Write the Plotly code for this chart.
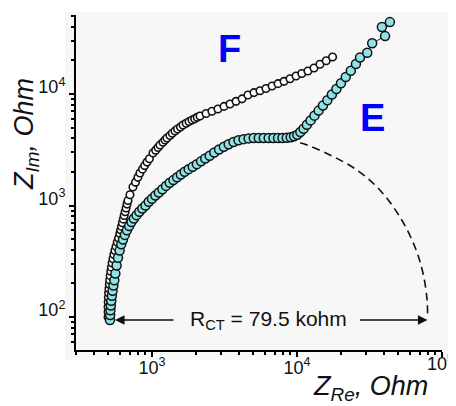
import plotly.graph_objects as go
import math

# ---- data ----
F_x = [498, 498, 498, 499, 500, 502, 505, 508, 511, 515, 520, 525, 531, 538, 546, 555, 565, 576, 588, 600,
       608, 616, 625, 634, 643, 653, 663, 673, 683, 705, 739, 770, 800, 826, 860, 890, 924, 960, 1016, 1060,
       1100, 1136, 1190, 1230, 1269, 1330, 1380, 1441, 1500, 1570, 1636, 1720, 1800, 1888, 1970, 2050, 2143,
       2360, 2590, 2850, 3140, 3450, 3800, 4180, 4590, 5050, 5560, 6110, 6730, 7400, 8140, 8950, 9850,
       10800, 11900, 13100, 14400, 15900, 17600]
F_y = [100, 111, 123, 136, 150, 165, 180, 197, 215, 235, 257, 280, 305, 333, 363, 395, 430, 468, 510, 560,
       605, 650, 700, 755, 815, 880, 950, 1030, 1110, 1250, 1466, 1620, 1790, 1955, 2120, 2280, 2453, 2630, 2956, 3130,
       3310, 3493, 3700, 3870, 4030, 4250, 4450, 4654, 4850, 5060, 5270, 5470, 5660, 5842, 6000, 6180, 6350,
       6700, 7000, 7350, 7750, 8150, 8600, 9050, 9800, 10300, 10700, 11200, 11800, 12400, 13000, 13700, 14500,
       15300, 16100, 17100, 18500, 19900, 21500]

E_x = [513, 515, 517, 520, 524, 529, 535, 542, 550, 559, 570, 583, 598, 614, 631, 650, 672, 696, 722, 750,
       782, 818, 858, 902, 950, 1000, 1055, 1115, 1180, 1250, 1325, 1405, 1490, 1580, 1680, 1790, 1910, 2040,
       2180, 2330, 2500, 2690, 2900, 3130, 3380, 3650, 3950, 4280, 4640, 5030, 5450, 5900, 6380, 6880, 7400,
       7940, 8500, 9050, 9550, 10050, 10550, 11100, 11700, 12400, 13200, 14100, 15100, 16200, 17400, 18700,
       20100, 21700, 23500, 25500, 27200, 30500, 33000, 40500, 38500, 43700]
E_y = [94, 104, 115, 127, 140, 155, 172, 192, 214, 245, 290, 340, 395, 450, 495, 545, 600, 655, 710, 765,
       820, 880, 940, 1000, 1080, 1150, 1230, 1310, 1400, 1500, 1600, 1690, 1790, 1900, 2010, 2120, 2230, 2350,
       2490, 2640, 2800, 2990, 3180, 3370, 3550, 3720, 3850, 3940, 4000, 4030, 4040, 4040, 4030, 4030, 4030,
       4040, 4060, 4100, 4180, 4320, 4560, 4880, 5300, 5800, 6400, 7100, 7900, 8800, 9900, 11100,
       12500, 14200, 16200, 18600, 21300, 23500, 28500, 33100, 39900, 44200]

fit_x = [10500, 11000, 16900, 25900, 37300, 51300, 65100, 73900, 78900, 79500]
fit_y = [3640, 3600, 2840, 2080, 1377, 788, 425, 248, 142, 98]

RCT = 79.5e3
x_tickvals = [1e3, 1e4, 1e5]
x_ticktext = ["10<sup>3</sup>", "10<sup>4</sup>", "10<sup>5</sup>"]
y_tickvals = [1e2, 1e3, 1e4]
y_ticktext = ["10<sup>2</sup>", "10<sup>3</sup>", "10<sup>4</sup>"]
x_minor = [m * 10 ** d for d in (2, 3, 4) for m in range(2, 10)]
y_minor = [m * 10 ** d for d in (1, 2, 3, 4) for m in range(2, 10)]

FONT = "Liberation Sans, Arial, sans-serif"

# page has an 8px body margin; figure is drawn at (8, 8)
OFF = 8
W, H = 448, 398
# plot area in screenshot pixels: x 76..442, y 15..350
X0, X1, Y0, Y1 = 76, 442, 15, 350
L, R, T, B = X0 - OFF, (W + OFF) - X1, Y0 - OFF, (H + OFF) - Y1
pw, ph = X1 - X0, Y1 - Y0

fig = go.Figure()
fig.add_trace(go.Scatter(x=fit_x, y=fit_y, mode="lines", line=dict(color="#111", width=1.6, dash="8px,5px", shape="spline"),
                         hoverinfo="skip", showlegend=False))
fig.add_trace(go.Scatter(x=F_x, y=F_y, mode="markers",
                         marker=dict(size=7.5, color="white", line=dict(color="#111", width=1.6)),
                         showlegend=False))
fig.add_trace(go.Scatter(x=E_x, y=E_y, mode="lines+markers",
                         line=dict(color="#222", width=1),
                         marker=dict(size=9, color="#8fe3e6", line=dict(color="#111", width=1.5)),
                         showlegend=False))


def px(x):
    return (x - X0) / pw


def py(y):
    return (Y1 - y) / ph


axis_common = dict(type="log", showline=True, linecolor="black", linewidth=2, ticks="outside",
                   ticklen=5, tickwidth=2, tickcolor="black", showgrid=False, zeroline=False,
                   tickfont=dict(family=FONT, size=18, color="#111"), tickmode="array")

# the last x label sits against the right edge: it is drawn as a right-anchored note below
fig.update_xaxes(**axis_common, range=[2.476, 5.0], tickvals=x_tickvals,
                 ticktext=x_ticktext[:-1] + [""],
                 ticklabelstandoff=-5,
                 minor=dict(tickmode="array", tickvals=x_minor, ticks="outside", ticklen=3, tickwidth=1.5,
                            tickcolor="black", showgrid=False))
fig.update_yaxes(**axis_common, range=[1.704, 4.709], tickvals=y_tickvals, ticktext=y_ticktext,
                 ticklabelshift=-7,
                 minor=dict(tickmode="array", tickvals=y_minor, ticks="outside", ticklen=3, tickwidth=1.5,
                            tickcolor="black", showgrid=False))

fig.add_shape(type="rect", xref="paper", yref="paper", x0=px(65), x1=px(449), y0=py(360), y1=py(12),
              fillcolor="#f7f7f7", line=dict(width=0), layer="below")

C = dict(xref="paper", yref="paper", xanchor="center", yanchor="middle", showarrow=False)
ann = []
ann.append(dict(C, x=px(456), y=py(362), xanchor="right", text=x_ticktext[-1],
                font=dict(family=FONT, size=18, color="#111")))
ann.append(dict(C, x=px(229), y=py(49), text="<b>F</b>",
                font=dict(family=FONT, size=38, color="#0000ff")))
ann.append(dict(C, x=px(372), y=py(118), text="<b>E</b>",
                font=dict(family=FONT, size=38, color="#0000ff")))
ann.append(dict(C, x=px(268), y=py(320), text="R<sub>CT</sub> = 79.5 kohm",
                font=dict(family=FONT, size=21, color="#111")))
ann.append(dict(x=math.log10(E_x[0]), y=math.log10(E_y[0]), xref="x", yref="y", text="", showarrow=True,
                ax=65, ay=0, arrowhead=2, arrowsize=1.2, arrowwidth=1.6, arrowcolor="#111", standoff=5))
ann.append(dict(x=math.log10(RCT), y=math.log10(E_y[0]), xref="x", yref="y", text="", showarrow=True,
                ax=-69, ay=0, arrowhead=2, arrowsize=1.2, arrowwidth=1.6, arrowcolor="#111"))
ann.append(dict(C, x=px(26), y=py(134), text="<i>Z<sub>Im</sub>, Ohm</i>", textangle=-90,
                font=dict(family=FONT, size=27, color="#111")))
ann.append(dict(C, x=px(370), y=py(388), text="<i>Z<sub>Re</sub>, Ohm</i>",
                font=dict(family=FONT, size=27, color="#111")))

fig.update_layout(width=W, height=H, margin=dict(l=L, r=R, t=T, b=B, autoexpand=False),
                  paper_bgcolor="white", plot_bgcolor="rgba(0,0,0,0)", showlegend=False,
                  annotations=ann, font=dict(family=FONT))

fig.write_html("out.html")
